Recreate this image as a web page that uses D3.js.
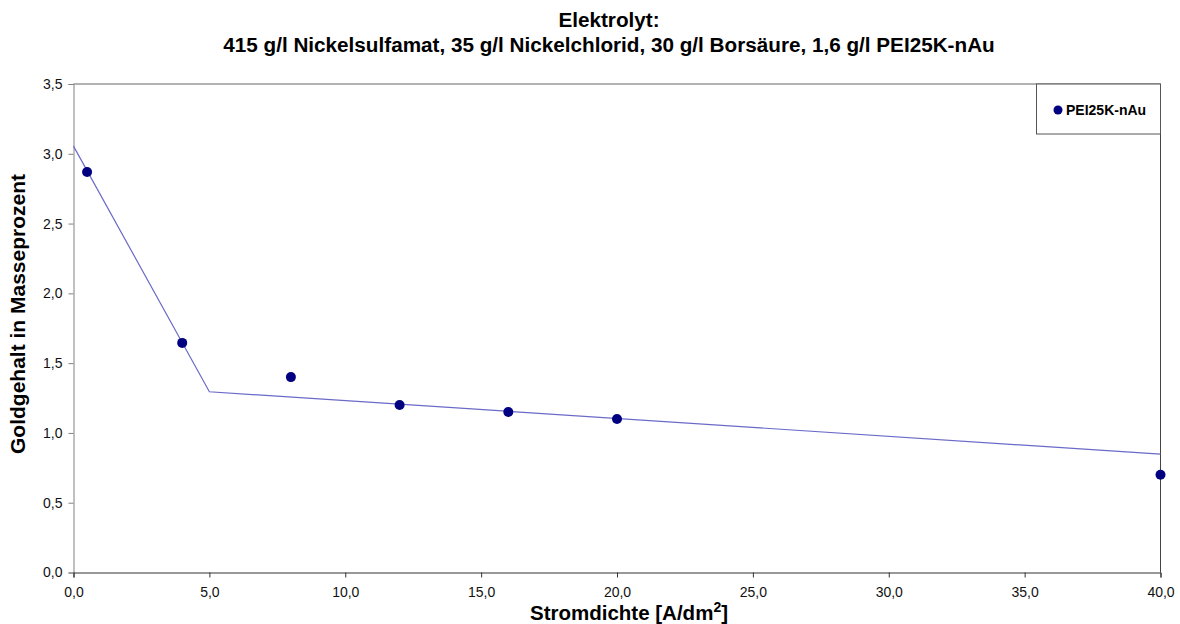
<!DOCTYPE html>
<html><head><meta charset="utf-8">
<script src="https://cdn.jsdelivr.net/npm/d3@7"></script>
<style>body{margin:0;background:#fff}svg{display:block}text{font-family:"Liberation Sans",Arial,sans-serif}</style>
</head><body>
<svg id="c" width="1180" height="624"></svg>
<script>
const titleLines = ["Elektrolyt:", "415 g/l Nickelsulfamat, 35 g/l Nickelchlorid, 30 g/l Borsäure, 1,6 g/l PEI25K-nAu"];
const seriesName = "PEI25K-nAu";
const xValues = [0.5, 4, 8, 12, 16, 20, 40];
const yValues = [2.87, 1.645, 1.40, 1.20, 1.15, 1.10, 0.70];
const trendX = [0, 5, 40];
const trendY = [3.055, 1.295, 0.848];
const xTicks = [0, 5, 10, 15, 20, 25, 30, 35, 40];
const yTicks = [0, 0.5, 1, 1.5, 2, 2.5, 3, 3.5];

const svg = d3.select("#c");
const L = 73.5, R = 1160.5, T = 84, B = 572.5;
const x = d3.scaleLinear().domain([0, 40]).range([L, R]);
const y = d3.scaleLinear().domain([0, 3.5]).range([B, T]);
const fmt = d => d3.format(".1f")(d).replace(".", ",");

// frame top/right
svg.append("line").attr("x1", L).attr("x2", R).attr("y1", T).attr("y2", T).attr("stroke", "#666");
svg.append("line").attr("x1", R).attr("x2", R).attr("y1", T).attr("y2", B).attr("stroke", "#444");

const ya = svg.append("g").attr("transform", `translate(${L},0)`)
  .call(d3.axisLeft(y).tickValues(yTicks).tickFormat(fmt).tickSize(5).tickPadding(6));
ya.attr("font-size", 14).attr("font-family", "Liberation Sans, Arial, sans-serif");
ya.select(".domain").attr("stroke", "#808080");
ya.selectAll(".tick line").attr("stroke", "#808080");
ya.selectAll("text").attr("fill", "#111");

const xa = svg.append("g").attr("transform", `translate(0,${B})`)
  .call(d3.axisBottom(x).tickValues(xTicks).tickFormat(fmt).tickSize(5).tickPadding(10));
xa.attr("font-size", 14).attr("font-family", "Liberation Sans, Arial, sans-serif");
xa.select(".domain").attr("stroke", "#333");
xa.selectAll(".tick line").attr("stroke", "#333");
xa.selectAll("text").attr("fill", "#111");

// trend line
const tdata = trendX.map((d, i) => [d, trendY[i]]);
svg.append("path").datum(tdata)
  .attr("d", d3.line().x(d => x(d[0])).y(d => y(d[1])))
  .attr("fill", "none").attr("stroke", "#6a6ac8").attr("stroke-width", 1.2);

// points
svg.selectAll("circle.pt").data(xValues).enter().append("circle").attr("class", "pt")
  .attr("cx", d => x(d)).attr("cy", (d, i) => y(yValues[i])).attr("r", 5).attr("fill", "#000080");

// titles
svg.append("text").attr("x", 609).attr("y", 27).attr("text-anchor", "middle")
  .attr("font-size", 20.7).attr("font-weight", "bold").text(titleLines[0]);
svg.append("text").attr("x", 609).attr("y", 52).attr("text-anchor", "middle")
  .attr("font-size", 20.7).attr("font-weight", "bold").text(titleLines[1]);

// axis titles
svg.append("text").attr("transform", "translate(25,314) rotate(-90)").attr("text-anchor", "middle")
  .attr("font-size", 21).attr("font-weight", "bold").text("Goldgehalt in Masseprozent");
const xt = svg.append("text").attr("x", 629).attr("y", 620).attr("text-anchor", "middle")
  .attr("font-size", 20.5).attr("font-weight", "bold");
xt.append("tspan").text("Stromdichte [A/dm");
xt.append("tspan").attr("font-size", 14).attr("dy", -8).text("2");
xt.append("tspan").attr("dy", 8).text("]");

// legend
svg.append("rect").attr("x", 1036.5).attr("y", 84).attr("width", 124).attr("height", 50)
  .attr("fill", "#fff").attr("stroke", "#555");
svg.append("circle").attr("cx", 1058).attr("cy", 110).attr("r", 4.5).attr("fill", "#000080");
svg.append("text").attr("x", 1066).attr("y", 115).attr("font-size", 14).attr("font-weight", "bold").text(seriesName);
</script>
</body></html>
